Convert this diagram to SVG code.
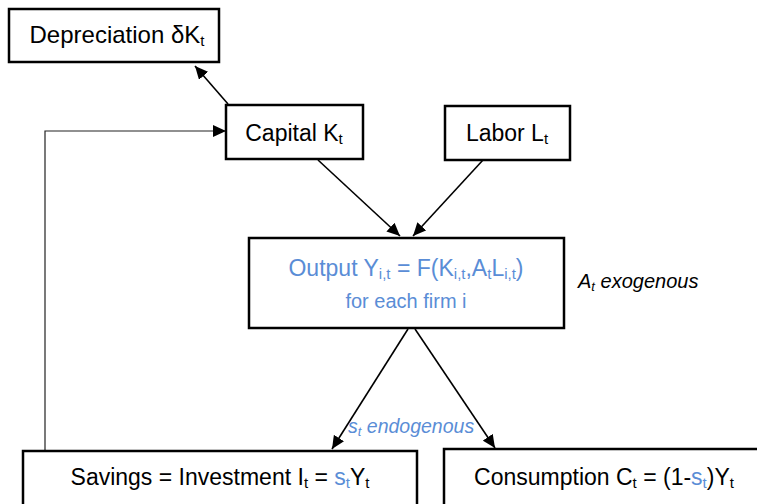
<svg xmlns="http://www.w3.org/2000/svg" width="757" height="504" viewBox="0 0 757 504">
<style>
.box{fill:#fff;stroke:#000;stroke-width:2.5}
.t{font-family:"Liberation Sans",Arial,sans-serif;font-size:23px;fill:#000}
.b{fill:#5A8DD6}
.sub{font-size:15px}
.it{font-style:italic}
.c{stroke:#000;stroke-width:1.6;fill:none}
</style>
<defs>
<marker id="ah" markerUnits="userSpaceOnUse" markerWidth="14" markerHeight="12" refX="13" refY="6" orient="auto">
<path d="M0,0 L13,6 L0,12 z" fill="#000"/>
</marker>
</defs>
<g id="connectors">
<line class="c" x1="228" y1="104" x2="195" y2="66" marker-end="url(#ah)"/>
<line class="c" x1="318" y1="160" x2="400" y2="236" marker-end="url(#ah)"/>
<line class="c" x1="483" y1="160" x2="413" y2="236" marker-end="url(#ah)"/>
<line class="c" x1="408" y1="329" x2="332" y2="449" marker-end="url(#ah)"/>
<line class="c" x1="415" y1="329" x2="495" y2="448" marker-end="url(#ah)"/>
<polyline class="c" style="stroke-width:1.2;stroke:#222" points="45,451 45,131 226,131" marker-end="url(#ah)"/>
</g>
<g id="depreciation">
<rect class="box" x="9" y="9" width="210" height="53"/>
<text class="t" x="117" y="43" text-anchor="middle" style="font-size:24px">Depreciation δK<tspan class="sub" dy="3">t</tspan></text>
</g>
<g id="capital">
<rect class="box" x="226" y="105" width="137" height="54"/>
<text class="t" x="294" y="141" text-anchor="middle">Capital K<tspan class="sub" dy="3">t</tspan></text>
</g>
<g id="labor">
<rect class="box" x="445" y="106" width="125" height="54"/>
<text class="t" x="507" y="141" text-anchor="middle">Labor L<tspan class="sub" dy="3">t</tspan></text>
</g>
<g id="output">
<rect class="box" x="249" y="238" width="315" height="90"/>
<text class="t b" x="406" y="276" text-anchor="middle">Output Y<tspan class="sub" dy="3">i,t</tspan><tspan dy="-3"> = F(K</tspan><tspan class="sub" dy="3">i,t</tspan><tspan dy="-3">,A</tspan><tspan class="sub" dy="3">t</tspan><tspan dy="-3">L</tspan><tspan class="sub" dy="3">i,t</tspan><tspan dy="-3">)</tspan></text>
<text class="t b" x="406" y="308" text-anchor="middle" style="font-size:20px">for each firm i</text>
</g>
<g id="exogenous">
<text class="t it" x="578" y="288" style="font-size:20px">A<tspan class="sub" dy="3" style="font-size:13px">t</tspan><tspan dy="-3"> exogenous</tspan></text>
</g>
<g id="endogenous">
<text class="t it b" x="348" y="433" style="font-size:19.5px">s<tspan class="sub" dy="3" style="font-size:13px">t</tspan><tspan dy="-3"> endogenous</tspan></text>
</g>
<g id="savings">
<rect class="box" x="23" y="451" width="394" height="60"/>
<text class="t" x="220" y="485" text-anchor="middle">Savings = Investment I<tspan class="sub" dy="3">t</tspan><tspan dy="-3"> = </tspan><tspan class="b">s</tspan><tspan class="sub b" dy="3">t</tspan><tspan dy="-3">Y</tspan><tspan class="sub" dy="3">t</tspan></text>
</g>
<g id="consumption">
<rect class="box" x="444" y="449" width="320" height="62"/>
<text class="t" x="604" y="485" text-anchor="middle">Consumption C<tspan class="sub" dy="3">t</tspan><tspan dy="-3"> = (1-</tspan><tspan class="b">s</tspan><tspan class="sub b" dy="3">t</tspan><tspan dy="-3">)Y</tspan><tspan class="sub" dy="3">t</tspan></text>
</g>
</svg>
